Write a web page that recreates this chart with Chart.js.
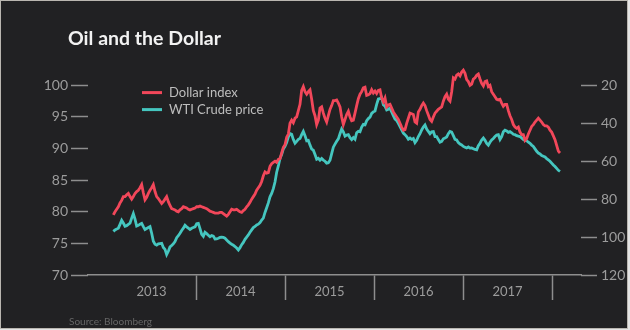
<!DOCTYPE html>
<html>
<head>
<meta charset="utf-8">
<script src="https://cdn.jsdelivr.net/npm/chart.js@4/dist/chart.umd.min.js"></script>
<style>
  html, body { margin: 0; padding: 0; background: #e4e4e4; }
  #wrap { width: 630px; height: 330px; }
</style>
</head>
<body>
<div id="wrap"><canvas id="chart" width="630" height="330"></canvas></div>
<script>
// Dollar index (left axis) and WTI crude, $ per barrel (right axis, inverted)
// Weekly samples from late January 2013 to late January 2018
const FIRST_SAMPLE = 2013.0712;   // decimal year of the first sample
const SAMPLE_STEP = 0.0187265;    // years between samples (about one week)

const dollarIndex = [
  79.5, 80.0, 80.4, 80.8, 81.4, 81.8, 82.4, 82.4, 82.7, 82.9,
  82.4, 82.0, 82.4, 82.9, 83.2, 83.4, 83.8, 84.3, 83.0, 81.9,
  82.3, 82.9, 83.4, 83.8, 84.3, 83.2, 82.4, 82.1, 81.7, 81.3,
  81.6, 82.0, 82.4, 81.6, 81.0, 80.5, 80.4, 80.3, 80.1, 80.0,
  80.3, 80.5, 80.8, 80.7, 80.6, 80.4, 80.3, 80.4, 80.5, 80.6,
  80.8, 80.8, 80.9, 80.8, 80.7, 80.6, 80.5, 80.3, 80.1, 80.0,
  79.9, 79.8, 79.8, 79.8, 79.9, 79.9, 79.7, 79.5, 79.3, 79.6,
  80.0, 80.4, 80.3, 80.3, 80.4, 80.2, 80.0, 79.9, 80.2, 80.4,
  80.8, 81.1, 81.5, 82.0, 82.4, 82.8, 83.4, 83.8, 84.2, 84.8,
  85.7, 86.3, 86.1, 86.2, 87.2, 87.6, 87.8, 88.0, 87.8, 88.3,
  88.4, 89.3, 90.2, 90.6, 91.8, 92.3, 94.0, 94.5, 94.1, 94.8,
  95.0, 96.0, 97.0, 99.2, 99.8, 99.0, 98.6, 99.0, 99.3, 97.8,
  96.0, 95.2, 93.8, 94.5, 96.4, 96.6, 95.6, 94.8, 94.2, 95.2,
  96.2, 96.8, 97.6, 97.6, 97.7, 97.2, 96.6, 95.0, 93.8, 94.6,
  95.4, 95.9, 95.0, 94.4, 94.5, 95.6, 96.8, 97.9, 98.6, 99.0,
  99.6, 99.7, 98.4, 98.5, 98.7, 99.3, 98.8, 99.1, 98.7, 99.2,
  99.3, 98.0, 97.4, 98.0, 96.6, 96.9, 97.0, 96.4, 95.8, 95.4,
  95.0, 94.6, 94.0, 93.4, 92.9, 93.0, 94.0, 94.8, 95.6, 95.5,
  95.4, 94.2, 94.0, 95.8, 96.2, 96.8, 97.2, 96.8, 96.0, 95.3,
  94.6, 94.3, 95.0, 95.6, 95.9, 96.2, 96.4, 96.6, 97.5, 98.2,
  98.6, 97.8, 97.5, 99.0, 101.2, 101.0, 101.6, 101.8, 101.5, 102.1,
  102.4, 101.9, 100.9, 100.6, 100.0, 100.2, 101.0, 101.2, 101.6, 101.8,
  101.0, 100.3, 99.9, 100.6, 100.7, 99.8, 100.0, 99.0, 98.6, 98.2,
  97.8, 97.7, 97.8, 97.2, 96.7, 97.0, 97.0, 96.0, 95.2, 94.6,
  93.8, 93.4, 93.2, 93.4, 92.6, 92.2, 92.2, 91.3, 91.6, 92.3,
  92.9, 93.5, 93.8, 94.2, 94.5, 94.8, 94.5, 94.2, 93.8, 93.6,
  93.6, 93.4, 92.9, 92.6, 92.0, 91.4, 90.5, 89.6, 89.3
];

const wtiCrude = [
  97.0, 96.2, 95.8, 95.3, 93.3, 91.2, 92.6, 94.3, 94.0, 93.3,
  92.7, 90.0, 87.6, 90.5, 94.2, 93.8, 93.2, 92.8, 94.5, 96.0,
  95.5, 95.0, 94.5, 98.0, 102.2, 103.8, 104.2, 103.6, 103.4, 103.3,
  105.5, 106.5, 109.2, 107.5, 105.2, 104.4, 103.6, 102.4, 100.3, 99.3,
  98.0, 96.5, 95.3, 93.8, 94.6, 95.3, 96.0, 95.4, 95.0, 94.6,
  93.0, 92.8, 95.5, 98.6, 99.6, 97.5, 98.2, 99.0, 99.8, 99.2,
  99.5, 101.0, 100.9, 100.6, 100.2, 100.0, 100.2, 100.6, 101.5, 102.4,
  103.2, 103.8, 104.3, 105.0, 105.8, 106.8, 105.6, 104.0, 102.8, 101.2,
  100.0, 98.9, 97.5, 96.2, 95.0, 94.4, 93.6, 93.2, 92.4, 91.0,
  90.0, 87.0, 84.5, 82.0, 78.8, 77.0, 74.5, 71.0, 65.8, 62.5,
  58.5, 56.5, 53.5, 52.2, 50.2, 47.2, 45.4, 45.8, 48.6, 50.5,
  49.5, 48.5, 48.0, 46.0, 44.3, 46.5, 49.2, 49.0, 51.5, 53.6,
  54.2, 56.5, 59.0, 58.5, 59.5, 58.6, 59.4, 60.0, 61.0, 60.8,
  59.5, 56.0, 52.6, 51.0, 49.5, 48.2, 45.5, 43.0, 44.5, 46.8,
  46.2, 46.0, 47.6, 48.6, 47.5, 48.4, 45.0, 44.2, 44.5, 42.0,
  40.6, 40.8, 38.6, 37.5, 36.8, 34.8, 34.0, 33.5, 30.0, 27.2,
  27.0, 26.5, 30.2, 31.0, 33.0, 32.6, 32.0, 34.0, 36.0, 37.8,
  38.5, 40.0, 41.8, 43.5, 45.2, 46.0, 47.0, 48.4, 47.8, 48.5,
  48.0, 50.2, 49.0, 47.0, 45.5, 43.5, 42.0, 40.9, 43.0, 44.3,
  45.5, 44.5, 44.4, 47.0, 47.0, 48.6, 50.0, 49.6, 48.2, 47.8,
  47.2, 45.5, 44.3, 44.6, 46.5, 48.5, 48.8, 50.2, 51.0, 51.4,
  52.2, 52.6, 53.0, 52.5, 53.1, 53.0, 53.4, 53.8, 54.0, 51.8,
  50.5, 48.8, 47.8, 49.0, 50.6, 51.5, 50.0, 48.8, 48.0, 47.0,
  46.2, 46.0, 48.5, 47.0, 44.5, 43.6, 44.0, 44.8, 44.4, 45.0,
  45.8, 46.0, 46.5, 46.8, 47.0, 47.8, 48.6, 49.0, 49.2, 50.0,
  50.6, 51.5, 52.2, 53.5, 54.8, 55.7, 56.2, 57.0, 57.4, 57.8,
  58.6, 59.3, 60.0, 61.0, 62.0, 62.8, 63.8, 64.8, 65.4
];

const yearTicks = [2013, 2014, 2015, 2016, 2017, 2018];
const yearLabels = ['2013', '2014', '2015', '2016', '2017', ''];
const dollarTicks = [70, 75, 80, 85, 90, 95, 100];
const crudeTicks = [20, 40, 60, 80, 100, 120];

const seriesNames = ['Dollar index', 'WTI Crude price'];
const seriesColors = ['#f2475a', '#45c6bf'];

const sampleDates = dollarIndex.map((_, i) => FIRST_SAMPLE + i * SAMPLE_STEP);
const toPoints = vals => vals.map((v, i) => ({ x: sampleDates[i], y: v }));

const AXIS_GREY = '#8e8e8e';
const LABEL_GREY = '#9c9c9c';
const BG = '#212123';

Chart.defaults.font.family = 'Lato, "Open Sans", sans-serif';

// Background, frame, title, legend and source note
const decorations = {
  id: 'decorations',
  beforeDraw(chart) {
    const { ctx, width, height } = chart;
    ctx.save();
    ctx.fillStyle = '#e4e4e4';
    ctx.fillRect(0, 0, width, height);
    ctx.fillStyle = '#b9b6b0';
    ctx.fillRect(0, 0, 628, 329);
    ctx.fillStyle = BG;
    ctx.fillRect(1, 1, 626, 327);
    ctx.restore();
  },
  afterDraw(chart) {
    const { ctx, chartArea } = chart;
    ctx.save();
    ctx.textBaseline = 'alphabetic';
    ctx.textAlign = 'left';
    ctx.fillStyle = '#f2f2f2';
    ctx.font = 'bold 19.5px Lato, "Open Sans", sans-serif';
    ctx.fillText('Oil and the Dollar', 68, 45);

    ctx.fillStyle = '#666666';
    ctx.font = '10px Lato, "Open Sans", sans-serif';
    ctx.fillText('Source: Bloomberg', 69, 325);

    ctx.font = '13px Lato, "Open Sans", sans-serif';
    ctx.textBaseline = 'middle';
    const lx = chartArea.left + 54;
    const ly = chartArea.top + 30;
    seriesNames.forEach((name, i) => {
      const y = ly + i * 17;
      ctx.strokeStyle = seriesColors[i];
      ctx.lineWidth = 3;
      ctx.beginPath();
      ctx.moveTo(lx, y);
      ctx.lineTo(lx + 20, y);
      ctx.stroke();
      ctx.fillStyle = '#bdbdbd';
      ctx.fillText(name, lx + 27, y);
    });
    ctx.restore();
  }
};

new Chart(document.getElementById('chart'), {
  type: 'line',
  data: {
    datasets: [
      {
        label: seriesNames[0],
        data: toPoints(dollarIndex),
        yAxisID: 'dollar',
        borderColor: seriesColors[0],
        borderWidth: 2.8,
        pointRadius: 0,
        tension: 0
      },
      {
        label: seriesNames[1],
        data: toPoints(wtiCrude),
        yAxisID: 'crude',
        borderColor: seriesColors[1],
        borderWidth: 2.8,
        pointRadius: 0,
        tension: 0
      }
    ]
  },
  options: {
    responsive: false,
    animation: false,
    layout: { padding: { top: 62.6, left: 0, right: 0, bottom: 0 } },
    plugins: {
      legend: { display: false },
      title: { display: false },
      tooltip: { enabled: false }
    },
    scales: {
      x: {
        type: 'linear',
        min: 2012.7865,
        max: 2018.3258,
        afterBuildTicks: s => { s.ticks = yearTicks.map(v => ({ value: v })); },
        afterFit: s => { s.height = 55; },
        border: { display: true, color: AXIS_GREY, width: 1.5 },
        grid: {
          drawOnChartArea: false,
          drawTicks: true,
          tickLength: 25,
          tickWidth: 1.5,
          tickColor: c => (c.tick && c.tick.value === 2013 ? 'rgba(0,0,0,0)' : AXIS_GREY)
        },
        ticks: {
          autoSkip: false,
          maxRotation: 0,
          labelOffset: 44.5,
          padding: -16,
          color: LABEL_GREY,
          font: { size: 13 },
          callback: v => yearLabels[yearTicks.indexOf(v)] ?? ''
        }
      },
      dollar: {
        position: 'left',
        min: 70,
        max: 103.6,
        afterBuildTicks: s => { s.ticks = dollarTicks.map(v => ({ value: v })); },
        afterFit: s => { s.width = 88; },
        border: { display: false },
        grid: {
          drawOnChartArea: false,
          drawTicks: true,
          tickLength: 17,
          tickWidth: 1.5,
          tickColor: AXIS_GREY
        },
        ticks: { padding: 3, color: LABEL_GREY, font: { size: 14 } }
      },
      crude: {
        position: 'right',
        reverse: true,
        min: 8,
        max: 120,
        afterBuildTicks: s => { s.ticks = crudeTicks.map(v => ({ value: v })); },
        afterFit: s => { s.width = 49; },
        border: { display: false },
        grid: {
          drawOnChartArea: false,
          drawTicks: true,
          tickLength: 16,
          tickWidth: 1.5,
          tickColor: AXIS_GREY
        },
        ticks: { padding: 4, color: LABEL_GREY, font: { size: 14 } }
      }
    }
  },
  plugins: [decorations]
});
</script>
</body>
</html>
